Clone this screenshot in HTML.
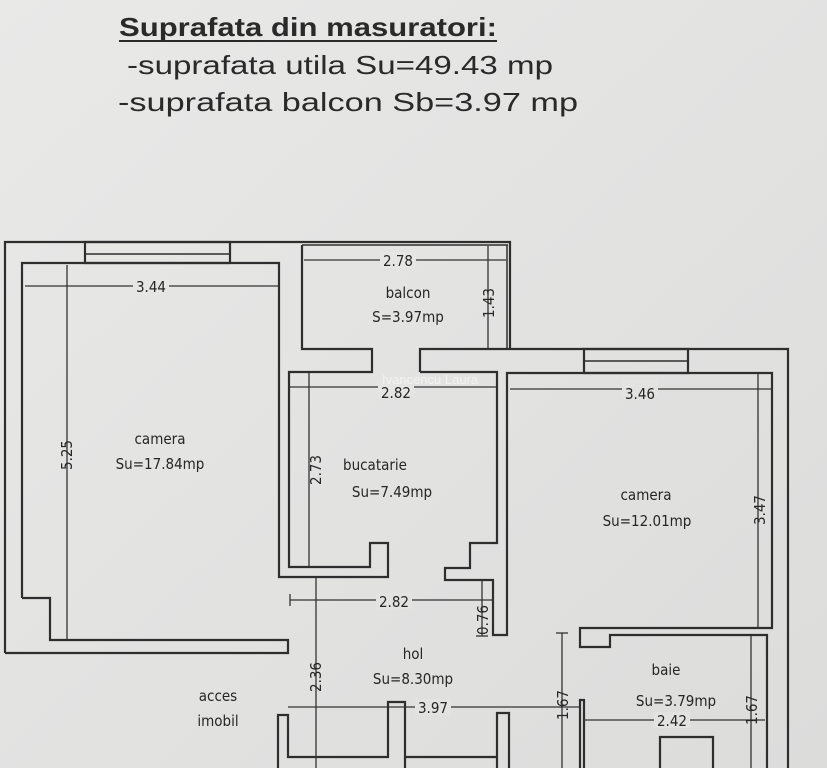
<!DOCTYPE html>
<html><head><meta charset="utf-8"><style>
html,body{margin:0;padding:0;background:#e6e6e4;}
svg{display:block}
</style></head><body>
<svg width="827" height="768" viewBox="0 0 827 768" xmlns="http://www.w3.org/2000/svg">
<defs><linearGradient id="bg" x1="0" y1="0" x2="1" y2="1"><stop offset="0" stop-color="#e9e9e8"/><stop offset="1" stop-color="#dcdcdb"/></linearGradient></defs>
<rect width="827" height="768" fill="url(#bg)"/>
<g font-family="Liberation Sans, sans-serif" fill="#2a2a2a">
<text x="119" y="36" font-size="26" font-weight="bold" textLength="378" lengthAdjust="spacingAndGlyphs">Suprafata din masuratori:</text>
<line x1="119" y1="41" x2="497" y2="41" stroke="#2a2a2a" stroke-width="2"/>
<text x="127" y="74" font-size="26" textLength="426" lengthAdjust="spacingAndGlyphs">-suprafata utila Su=49.43 mp</text>
<text x="118" y="111" font-size="26" textLength="460" lengthAdjust="spacingAndGlyphs">-suprafata balcon Sb=3.97 mp</text>
</g>
<g fill="none" stroke="#2e2e2e" stroke-width="2.2">
<polyline points="5,653 5,242 510,242 510,349"/>
<line x1="302" y1="245" x2="508" y2="245" stroke-width="1.5"/>
<line x1="507" y1="245" x2="507" y2="349" stroke-width="1.5"/>
<rect x="85" y="242" width="145" height="21"/>
<line x1="85" y1="254" x2="230" y2="254" stroke-width="1.5"/>
<polyline points="22,598 22,263 279,263 279,577 388,577 388,543 370,543 370,567 289,567 289,372 372,372 372,349 302,349 302,245"/>
<polyline points="22,598 50,598 50,640 288,640 288,653 5,653"/>
<polyline points="420,372 420,349 788,349 788,768"/>
<polyline points="420,372 497,372 497,543 470,543 470,568 445,568 445,580 493,580 493,635 507,635 507,373 772,373 772,628 580,628 580,647 610,647 610,635 767,635 767,768"/>
<rect x="584" y="349" width="104" height="24"/>
<line x1="584" y1="361" x2="688" y2="361" stroke-width="1.5"/>
<polyline points="278,768 278,715 288,715 288,757 388,757 388,702 405,702 405,768"/>
<polyline points="497,768 497,713 509,713 509,768"/>
<line x1="405" y1="757" x2="497" y2="757"/>
<polyline points="580,768 580,700 584,700 584,768"/>
<polyline points="660,768 660,737 713,737 713,768"/>
</g>
<g stroke="#333" stroke-width="1.3" fill="none">
<line x1="25" y1="286" x2="279" y2="286"/>
<line x1="67" y1="265" x2="67" y2="640"/>
<line x1="304" y1="260" x2="506" y2="260"/>
<line x1="488" y1="246" x2="488" y2="349"/>
<line x1="290" y1="387" x2="496" y2="387"/>
<line x1="309" y1="373" x2="309" y2="566"/>
<line x1="510" y1="389" x2="772" y2="389"/>
<line x1="758" y1="374" x2="758" y2="628"/>
<line x1="290" y1="600" x2="492" y2="600"/><line x1="290" y1="594" x2="290" y2="606"/>
<line x1="316" y1="578" x2="316" y2="768"/>
<line x1="482" y1="580" x2="482" y2="636"/><line x1="476" y1="636" x2="488" y2="636"/>
<line x1="288" y1="707" x2="580" y2="707"/>
<line x1="562" y1="633" x2="562" y2="768"/><line x1="556" y1="633" x2="568" y2="633"/>
<line x1="584" y1="720" x2="765" y2="720"/>
<line x1="751" y1="636" x2="751" y2="768"/>
</g>
<g font-family="DejaVu Sans Condensed, DejaVu Sans, sans-serif" font-size="15" fill="#262626" text-anchor="middle">
<rect x="133" y="278" width="36" height="16" fill="#e6e6e5"/><text x="151" y="292">3.44</text>
<rect x="380" y="252" width="36" height="16" fill="#e6e6e5"/><text x="398" y="266">2.78</text>
<rect x="378" y="380" width="36" height="16" fill="#e5e5e4"/><text x="396" y="398">2.82</text>
<rect x="622" y="380" width="36" height="16" fill="#e3e3e2"/><text x="640" y="399">3.46</text>
<rect x="376" y="593" width="36" height="16" fill="#e3e3e2"/><text x="394" y="607">2.82</text>
<rect x="415" y="699" width="36" height="16" fill="#e3e3e2"/><text x="433" y="713">3.97</text>
<rect x="654" y="712" width="36" height="16" fill="#e3e3e2"/><text x="672" y="726">2.42</text>
<text transform="translate(72,455) rotate(-90)">5.25</text>
<text transform="translate(321,470) rotate(-90)">2.73</text>
<text transform="translate(494,303) rotate(-90)">1.43</text>
<text transform="translate(765,510) rotate(-90)">3.47</text>
<text transform="translate(488,620) rotate(-90)">0.76</text>
<text transform="translate(321,677) rotate(-90)">2.36</text>
<text transform="translate(568,705) rotate(-90)">1.67</text>
<text transform="translate(757,710) rotate(-90)">1.67</text>
<text x="160" y="444">camera</text><text x="160" y="469">Su=17.84mp</text>
<text x="408" y="298">balcon</text><text x="408" y="322">S=3.97mp</text>
<text x="375" y="470">bucatarie</text><text x="392" y="497">Su=7.49mp</text>
<text x="646" y="500">camera</text><text x="647" y="526">Su=12.01mp</text>
<text x="413" y="659">hol</text><text x="413" y="684">Su=8.30mp</text>
<text x="666" y="675">baie</text><text x="676" y="706">Su=3.79mp</text>
<text x="218" y="701">acces</text><text x="218" y="726">imobil</text>
</g>
<text x="382" y="384" font-family="Liberation Sans, sans-serif" font-size="13" fill="#fafafa" opacity="0.7">Ivancencu Laura</text>
</svg>
</body></html>
